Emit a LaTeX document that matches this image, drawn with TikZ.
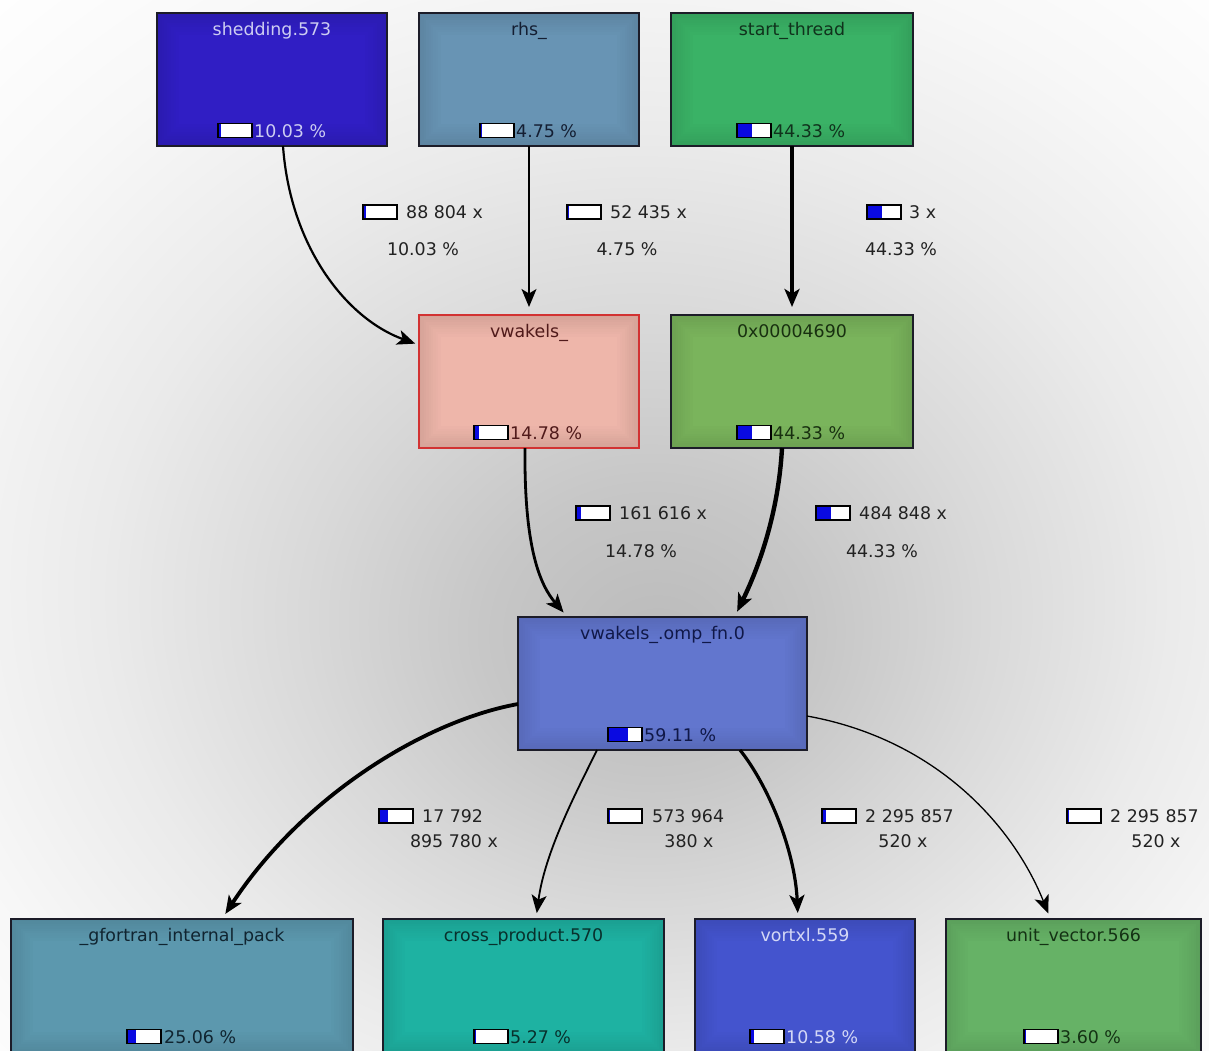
\documentclass[tikz,border=0pt]{standalone}
\usepackage{fontspec}
\setmainfont{DejaVu Sans}
\usetikzlibrary{arrows.meta}

\definecolor{boxline}{RGB}{28,28,40}
\definecolor{shedfill}{RGB}{48,30,196}
\definecolor{shedtext}{RGB}{205,205,242}
\definecolor{rhsfill}{RGB}{104,148,180}
\definecolor{rhstext}{RGB}{20,30,50}
\definecolor{startfill}{RGB}{58,178,102}
\definecolor{starttext}{RGB}{16,50,28}
\definecolor{vwfill}{RGB}{238,182,170}
\definecolor{vwline}{RGB}{210,50,50}
\definecolor{vwtext}{RGB}{80,26,26}
\definecolor{hexfill}{RGB}{122,180,92}
\definecolor{hextext}{RGB}{24,48,16}
\definecolor{ompfill}{RGB}{98,118,206}
\definecolor{omptext}{RGB}{16,24,72}
\definecolor{gffill}{RGB}{92,152,174}
\definecolor{gftext}{RGB}{16,36,48}
\definecolor{crossfill}{RGB}{30,178,162}
\definecolor{crosstext}{RGB}{8,48,44}
\definecolor{vortfill}{RGB}{68,84,206}
\definecolor{vorttext}{RGB}{212,216,246}
\definecolor{unitfill}{RGB}{102,178,102}
\definecolor{unittext}{RGB}{20,50,20}
\definecolor{barblue}{RGB}{10,10,225}
\definecolor{lbltext}{RGB}{34,34,34}

\pgfdeclareradialshading{bgshade}{\pgfpoint{2.3bp}{-6bp}}{color(0bp)=(black!27); color(7bp)=(black!22); color(14bp)=(black!15); color(22bp)=(black!8); color(30bp)=(black!3); color(38bp)=(white); color(50bp)=(white)}

\newcommand\pctbar[3]{%
  \fill[white] (#1,#2) rectangle ++(34,-14);
  \fill[barblue] (#1,#2) rectangle ++({max(34*#3,1.6)},-14);
  \draw[black,line width=1.1pt] (#1,#2) rectangle ++(34,-14);
}
\newcommand\vig[1]{%
  \foreach \i in {1,...,9}{%
    \pgfmathsetmacro\ins{\i*2.4-1.2}%
    \pgfmathsetmacro\op{0.10*(1-(\i-1)/9)}%
    \draw[black,opacity=\op,line width=2.4pt] ([shift={(\ins,\ins)}]#1.north west) rectangle ([shift={(-\ins,-\ins)}]#1.south east);
  }
}

\begin{document}
\begin{tikzpicture}[x=1pt,y=-1pt,
  every node/.style={font=\fontsize{17.4}{20}\selectfont, inner sep=0pt},
  box/.style={draw=boxline, line width=1.3pt, minimum height=133pt, inner sep=0pt, outer sep=0pt},
  lowbox/.style={box, minimum height=135pt},
  ttl/.style={anchor=base},
  pct/.style={anchor=base west},
  lbl/.style={text=lbltext},
  edge/.style={draw=black, -{Stealth[length=18pt,width=15pt,inset=4.5pt]}, shorten >=6pt}
]
\useasboundingbox (0,0) rectangle (1209,1050);
\clip (0,0) rectangle (1209,1050);
\shade[shading=bgshade] (0,0) rectangle (1209,1050);

% boxes
\node[box, fill=shedfill, minimum width=230pt] (shed) at (272,79.5) {};
\node[box, fill=rhsfill, minimum width=220pt] (rhs) at (529,79.5) {};
\node[box, fill=startfill, minimum width=242pt] (start) at (792,79.5) {};
\node[box, fill=vwfill, draw=vwline, minimum width=220pt] (vw) at (529,381.5) {};
\node[box, fill=hexfill, minimum width=242pt] (hex) at (792,381.5) {};
\node[box, fill=ompfill, minimum width=289pt] (omp) at (662.5,683.5) {};
\node[lowbox, fill=gffill, minimum width=342pt] (gf) at (182,986.5) {};
\node[lowbox, fill=crossfill, minimum width=281pt] (cross) at (523.5,986.5) {};
\node[lowbox, fill=vortfill, minimum width=220pt] (vort) at (805,986.5) {};
\node[lowbox, fill=unitfill, minimum width=255pt] (unit) at (1073.5,986.5) {};
\vig{shed}\vig{rhs}\vig{start}\vig{vw}\vig{hex}\vig{omp}\vig{gf}\vig{cross}\vig{vort}\vig{unit}
\draw[boxline, line width=1.3pt] (shed.north west) rectangle (shed.south east);
\draw[boxline, line width=1.3pt] (rhs.north west) rectangle (rhs.south east);
\draw[boxline, line width=1.3pt] (start.north west) rectangle (start.south east);
\draw[vwline, line width=1.3pt] (vw.north west) rectangle (vw.south east);
\draw[boxline, line width=1.3pt] (hex.north west) rectangle (hex.south east);
\draw[boxline, line width=1.3pt] (omp.north west) rectangle (omp.south east);
\draw[boxline, line width=1.3pt] (gf.north west) rectangle (gf.south east);
\draw[boxline, line width=1.3pt] (cross.north west) rectangle (cross.south east);
\draw[boxline, line width=1.3pt] (vort.north west) rectangle (vort.south east);
\draw[boxline, line width=1.3pt] (unit.north west) rectangle (unit.south east);

% titles
\node[ttl, text=shedtext] (shedT) at ([yshift=-22pt]shed.north) {shedding.573};
\node[ttl, text=rhstext] (rhsT) at ([yshift=-22pt]rhs.north) {rhs\_};
\node[ttl, text=starttext] (startT) at ([yshift=-22pt]start.north) {start\_thread};
\node[ttl, text=vwtext] (vwT) at ([yshift=-22pt]vw.north) {vwakels\_};
\node[ttl, text=hextext] (hexT) at ([yshift=-22pt]hex.north) {0x00004690};
\node[ttl, text=omptext] (ompT) at ([yshift=-22pt]omp.north) {vwakels\_.omp\_fn.0};
\node[ttl, text=gftext] (gfT) at ([yshift=-22pt]gf.north) {\_gfortran\_internal\_pack};
\node[ttl, text=crosstext] (crossT) at ([yshift=-22pt]cross.north) {cross\_product.570};
\node[ttl, text=vorttext] (vortT) at ([yshift=-22pt]vort.north) {vortxl.559};
\node[ttl, text=unittext] (unitT) at ([yshift=-22pt]unit.north) {unit\_vector.566};

% percentages in boxes
\pctbar{218}{137.5}{0.1003}
\node[pct, text=shedtext] (shedP) at (254,137) {10.03 \%};
\pctbar{480}{137.5}{0.0475}
\node[pct, text=rhstext] (rhsP) at (516,137) {4.75 \%};
\pctbar{737}{137.5}{0.4433}
\node[pct, text=starttext] (startP) at (773,137) {44.33 \%};
\pctbar{474}{439.5}{0.1478}
\node[pct, text=vwtext] (vwP) at (510,439) {14.78 \%};
\pctbar{737}{439.5}{0.4433}
\node[pct, text=hextext] (hexP) at (773,439) {44.33 \%};
\pctbar{608}{741.5}{0.5911}
\node[pct, text=omptext] (ompP) at (644,741) {59.11 \%};
\pctbar{127}{1043.5}{0.2506}
\node[pct, text=gftext] (gfP) at (164,1043) {25.06 \%};
\pctbar{474}{1043.5}{0.0527}
\node[pct, text=crosstext] (crossP) at (510,1043) {5.27 \%};
\pctbar{750}{1043.5}{0.1058}
\node[pct, text=vorttext] (vortP) at (786,1043) {10.58 \%};
\pctbar{1024}{1043.5}{0.036}
\node[pct, text=unittext] (unitP) at (1060,1043) {3.60 \%};

% edges
\draw[edge, line width=2.2pt, shorten >=4pt] ([xshift=11pt]shed.south) .. controls (290,245) and (345,318) .. ([yshift=36.5pt]vw.west);
\draw[edge, line width=1.6pt, shorten >=8pt] (rhs.south) -- (vw.north);
\draw[edge, line width=4.4pt, shorten >=8pt] (start.south) -- (hex.north);
\draw[edge, line width=2.8pt] ([xshift=-4pt]vw.south) .. controls (524,548) and (540,585) .. ([xshift=-95pt]omp.north);
\draw[edge, line width=4.4pt] ([xshift=-10pt]hex.south) .. controls (778,520) and (755,575) .. ([xshift=72pt]omp.north);
\draw[edge, line width=3.8pt] ([yshift=-20.5pt]omp.west) .. controls (420,722) and (300,800) .. ([xshift=40pt]gf.north);
\draw[edge, line width=1.8pt] ([xshift=-65.5pt]omp.south) .. controls (580,785) and (545,850) .. ([xshift=12.5pt]cross.north);
\draw[edge, line width=3.2pt] ([xshift=77.5pt]omp.south) .. controls (768,785) and (795,850) .. ([xshift=-7pt]vort.north);
\draw[edge, line width=1.3pt] ([yshift=-32.5pt]omp.east) .. controls (940,740) and (1015,830) .. ([xshift=-23pt]unit.north);

% edge labels
\pctbar{363}{219}{0.1003}
\node[lbl, anchor=base west] (l1a) at (406,218) {88 804 x};
\node[lbl, anchor=base] (l1b) at (423,255) {10.03 \%};
\pctbar{567}{219}{0.0475}
\node[lbl, anchor=base west] (l2a) at (610,218) {52 435 x};
\node[lbl, anchor=base] (l2b) at (627,255) {4.75 \%};
\pctbar{867}{219}{0.4433}
\node[lbl, anchor=base west] (l3a) at (909,218) {3 x};
\node[lbl, anchor=base] (l3b) at (901,255) {44.33 \%};
\pctbar{576}{520}{0.1478}
\node[lbl, anchor=base west] (l4a) at (619,519) {161 616 x};
\node[lbl, anchor=base] (l4b) at (641,557) {14.78 \%};
\pctbar{816}{520}{0.4433}
\node[lbl, anchor=base west] (l5a) at (859,519) {484 848 x};
\node[lbl, anchor=base] (l5b) at (882,557) {44.33 \%};
\pctbar{379}{823}{0.2506}
\node[lbl, anchor=base west] (l6a) at (422,822) {17 792};
\node[lbl, anchor=base] (l6b) at (454,847) {895 780 x};
\pctbar{608}{823}{0.0527}
\node[lbl, anchor=base west] (l7a) at (652,822) {573 964};
\node[lbl, anchor=base] (l7b) at (689,847) {380 x};
\pctbar{822}{823}{0.1058}
\node[lbl, anchor=base west] (l8a) at (865,822) {2 295 857};
\node[lbl, anchor=base] (l8b) at (903,847) {520 x};
\pctbar{1067}{823}{0.036}
\node[lbl, anchor=base west] (l9a) at (1110,822) {2 295 857};
\node[lbl, anchor=base] (l9b) at (1156,847) {520 x};
\end{tikzpicture}
\end{document}
